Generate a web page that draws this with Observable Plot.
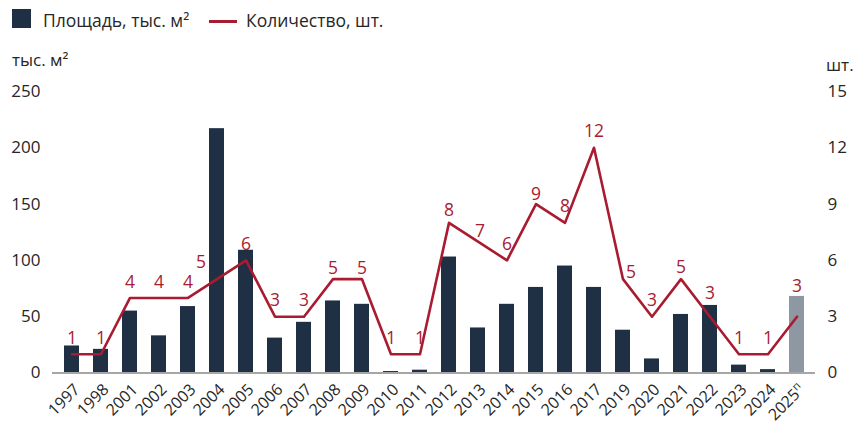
<!DOCTYPE html>
<html>
<head>
<meta charset="utf-8">
<script src="https://cdn.jsdelivr.net/npm/d3@7"></script>
<script src="https://cdn.jsdelivr.net/npm/@observablehq/plot@0.6"></script>
<style>
  body { margin: 0; background: #fff; }
  #wrap { position: relative; width: 867px; height: 426px; font-family: "Open Sans", sans-serif; color: #262626; }
  .lbl { position: absolute; font-size: 17.5px; line-height: 22px; white-space: nowrap; }
  #chart { position: absolute; left: 0; top: 40px; }
</style>
</head>
<body>
<div id="wrap">
  <div style="position:absolute;left:12px;top:9px;width:19px;height:19px;background:#1f3044"></div>
  <div class="lbl" style="left:43px;top:9px">Площадь, тыс. м²</div>
  <div style="position:absolute;left:209px;top:20px;width:28px;height:3px;background:#a91b30"></div>
  <div class="lbl" style="left:246px;top:9px">Количество, шт.</div>
  <div class="lbl" style="left:12px;top:49px;font-size:17px">тыс. м²</div>
  <div class="lbl" style="left:826px;top:54px;font-size:17px">шт.</div>
  <div id="chart"></div>
</div>
<script>
const years = ["1997","1998","2001","2002","2003","2004","2005","2006","2007","2008","2009","2010","2011","2012","2013","2014","2015","2016","2017","2019","2020","2021","2022","2023","2024","2025п"];
const area = [24, 21, 55, 33, 59, 217, 109, 31, 45, 64, 61, 1.3, 2.5, 103, 40, 61, 76, 95, 76, 38, 12.5, 52, 60, 7, 3, 68];
const counts = [1, 1, 4, 4, 4, 5, 6, 3, 3, 5, 5, 1, 1, 8, 7, 6, 9, 8, 12, 5, 3, 5, 3, 1, 1, 3];
const leftTicks = [0, 50, 100, 150, 200, 250];

const navy = "#1f3044", gray = "#8e98a2", red = "#a91b30";
const k = 250 / 15;
const data = years.map((y, i) => ({year: y, area: area[i], count: counts[i]}));

// label nudges (to avoid overlapping bars/line)
const nudge = {"2004": [-16, -17], "2019": [8, -7], "2022": [0, -23], "2025п": [0, -30],
  "2008": [0, -11], "2009": [0, -11], "2012": [0, -12], "2013": [2, -10], "2015": [0, -10], "2021": [0, -12]};
const dxOf = d => (nudge[d.year] || [0, -16])[0];
const dyOf = d => (nudge[d.year] || [0, -16])[1];

const marks = [
  Plot.barY(data.filter(d => d.year !== "2025п"), {x: "year", y: "area", fill: navy}),
  Plot.barY(data.filter(d => d.year === "2025п"), {x: "year", y: "area", fill: gray}),
  Plot.ruleY([0], {stroke: "#a6a6a6", strokeWidth: 2}),
  Plot.line(data, {x: "year", y: d => d.count * k, stroke: red, strokeWidth: 2.6}),
  Plot.axisY(leftTicks, {anchor: "left", tickSize: 0, tickPadding: 12, fontSize: 17, label: null}),
  Plot.axisY(leftTicks, {anchor: "right", tickSize: 0, tickPadding: 12, fontSize: 17, label: null, tickFormat: d => d * 15 / 250}),
  Plot.axisX({tickSize: 0, tickRotate: -45, tickPadding: 14, dx: 5, fontSize: 16, label: null})
];
const groups = d3.group(data, d => dxOf(d) + "," + dyOf(d));
for (const [key, arr] of groups) {
  const [dx, dy] = key.split(",").map(Number);
  marks.push(Plot.text(arr, {x: "year", y: d => d.count * k, text: d => String(d.count), dx, dy, fill: red, fontSize: 17.5}));
}

const chart = Plot.plot({
  width: 867, height: 386,
  marginLeft: 52, marginRight: 52, marginTop: 51, marginBottom: 53.5,
  x: {type: "band", domain: years, paddingInner: 0.5, paddingOuter: 0.25, axis: null},
  y: {domain: [0, 250], axis: null},
  style: {fontFamily: "Open Sans, sans-serif", color: "#262626", background: "transparent", overflow: "visible"},
  marks
});
document.getElementById("chart").appendChild(chart);

d3.select(chart).selectAll("text").each(function() {
  if (this.textContent === "2025п") {
    const t = d3.select(this);
    t.text("2025");
    t.append("tspan").attr("dy", "-0.55em").attr("font-size", "11").text("п");
  }
});
</script>
</body>
</html>
